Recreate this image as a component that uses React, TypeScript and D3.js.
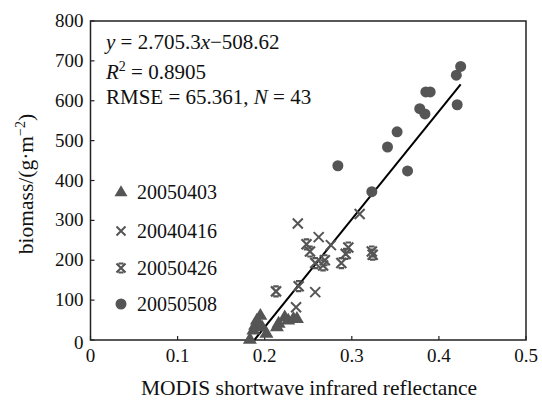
import React from "react";
import * as d3 from "d3";

const xTicks = [0, 0.1, 0.2, 0.3, 0.4, 0.5];
const yTicks = [0, 100, 200, 300, 400, 500, 600, 700, 800];

// 20050403 (triangles)
const triX = [0.195, 0.191, 0.189, 0.187, 0.183, 0.197, 0.202, 0.216, 0.223, 0.227, 0.233, 0.237, 0.214];
const triY = [62, 50, 37, 25, 2, 33, 17, 42, 58, 50, 54, 54, 33];
// 20040416 (x marks)
const crossX = [0.238, 0.262, 0.309, 0.276, 0.258, 0.236];
const crossY = [292, 258, 316, 238, 120, 82];
// 20050426 (asterisks)
const starX = [0.248, 0.252, 0.296, 0.293, 0.288, 0.323, 0.324, 0.269, 0.267, 0.258, 0.213, 0.239];
const starY = [240, 222, 232, 216, 193, 222, 214, 200, 187, 193, 122, 135];
// 20050508 (circles)
const circX = [0.425, 0.42, 0.421, 0.385, 0.39, 0.378, 0.384, 0.352, 0.341, 0.364, 0.284, 0.323];
const circY = [686, 664, 590, 622, 622, 580, 567, 522, 484, 424, 437, 372];

const legendLabels = ["20050403", "20040416", "20050426", "20050508"];
const slope = 2705.3;
const intercept = -508.62;
const fitRange = [0.188, 0.425];

const W = 542;
const H = 401;
const FONT = "'Liberation Serif', 'Times New Roman', serif";
const MARK = "#555555";

function Triangle({ x, y, s = 7 }: { x: number; y: number; s?: number }) {
  const h = s * 1.7;
  return (
    <path
      d={`M${x},${y - h * 0.62} L${x + s},${y + h * 0.38} L${x - s},${y + h * 0.38} Z`}
      fill={MARK}
    />
  );
}
function Cross({ x, y, s = 5 }: { x: number; y: number; s?: number }) {
  return (
    <path
      d={`M${x - s},${y - s} L${x + s},${y + s} M${x - s},${y + s} L${x + s},${y - s}`}
      stroke={MARK}
      strokeWidth={2}
      fill="none"
    />
  );
}
function Star({ x, y, s = 5 }: { x: number; y: number; s?: number }) {
  const b = s * 0.55;
  return (
    <path
      d={`M${x - s},${y - s} L${x + s},${y + s} M${x - s},${y + s} L${x + s},${y - s} M${x - b},${y - s} L${x + b},${y - s} M${x - b},${y + s} L${x + b},${y + s}`}
      stroke={MARK}
      strokeWidth={2.2}
      fill="none"
    />
  );
}

export default function App() {
  const left = 90.5;
  const right = 526;
  const top = 21;
  const bottom = 340;
  const x = d3.scaleLinear().domain([0, 0.5]).range([left, right]);
  const y = d3.scaleLinear().domain([0, 800]).range([bottom, top]);
  const line = d3
    .line<number>()
    .x((d) => x(d))
    .y((d) => y(slope * d + intercept));

  const legY = [192, 231, 268, 304];
  const legX = 121;

  return (
    <svg
      width={W}
      height={H}
      style={{ position: "absolute", left: 0, top: 0, background: "#fff" }}
      fontFamily={FONT}
    >
      <rect x={0} y={0} width={W} height={H} fill="#fff" />
      {/* frame */}
      <rect
        x={left}
        y={top}
        width={right - left}
        height={bottom - top}
        fill="none"
        stroke="#222"
        strokeWidth={1.5}
      />
      {/* ticks */}
      {xTicks.map((t) => (
        <g key={"xt" + t}>
          <line x1={x(t)} x2={x(t)} y1={bottom} y2={bottom - 4} stroke="#222" strokeWidth={1.2} />
          <text x={x(t)} y={bottom + 22} textAnchor="middle" fontSize={19} fill="#111">
            {t}
          </text>
        </g>
      ))}
      {yTicks.map((t) => (
        <g key={"yt" + t}>
          <line x1={left} x2={left + 4} y1={y(t)} y2={y(t)} stroke="#222" strokeWidth={1.2} />
          <text
            x={left - 7}
            y={y(t) + (t === 0 ? 9 : 6)}
            textAnchor="end"
            fontSize={19}
            fill="#111"
          >
            {t}
          </text>
        </g>
      ))}
      {/* axis titles */}
      <text x={309} y={395} textAnchor="middle" fontSize={21.5} fill="#111">
        MODIS shortwave infrared reflectance
      </text>
      <text
        transform={`translate(33, ${184}) rotate(-90)`}
        textAnchor="middle"
        fontSize={21.5}
        fill="#111"
      >
        biomass/(g·m
        <tspan dy={-8} fontSize={14}>−2</tspan>
        <tspan dy={8}>)</tspan>
      </text>

      {/* fit line */}
      <path d={line(fitRange) || ""} stroke="#000" strokeWidth={2} fill="none" />

      {/* data */}
      {triX.map((v, i) => (
        <Triangle key={"t" + i} x={x(v)} y={y(triY[i])} />
      ))}
      {crossX.map((v, i) => (
        <Cross key={"c" + i} x={x(v)} y={y(crossY[i])} />
      ))}
      {starX.map((v, i) => (
        <Star key={"s" + i} x={x(v)} y={y(starY[i])} />
      ))}
      {circX.map((v, i) => (
        <circle key={"o" + i} cx={x(v)} cy={y(circY[i])} r={5.5} fill={MARK} />
      ))}

      {/* equation text */}
      <text x={106} y={49} fontSize={21} fill="#111">
        <tspan fontStyle="italic">y</tspan> = 2.705.3<tspan fontStyle="italic">x</tspan>−508.62
      </text>
      <text x={106} y={79} fontSize={21} fill="#111">
        <tspan fontStyle="italic">R</tspan>
        <tspan dy={-8} fontSize={14}>2</tspan>
        <tspan dy={8}> = 0.8905</tspan>
      </text>
      <text x={106} y={104} fontSize={21} fill="#111">
        RMSE = 65.361, <tspan fontStyle="italic">N</tspan> = 43
      </text>

      {/* legend */}
      <Triangle x={legX} y={legY[0]} s={6.5} />
      <Cross x={legX} y={legY[1]} s={4.5} />
      <Star x={legX} y={legY[2]} s={4.5} />
      <circle cx={legX} cy={legY[3]} r={5.5} fill={MARK} />
      {legendLabels.map((l, i) => (
        <text key={l} x={137} y={legY[i] + 7} fontSize={20} fill="#111">
          {l}
        </text>
      ))}
    </svg>
  );
}
